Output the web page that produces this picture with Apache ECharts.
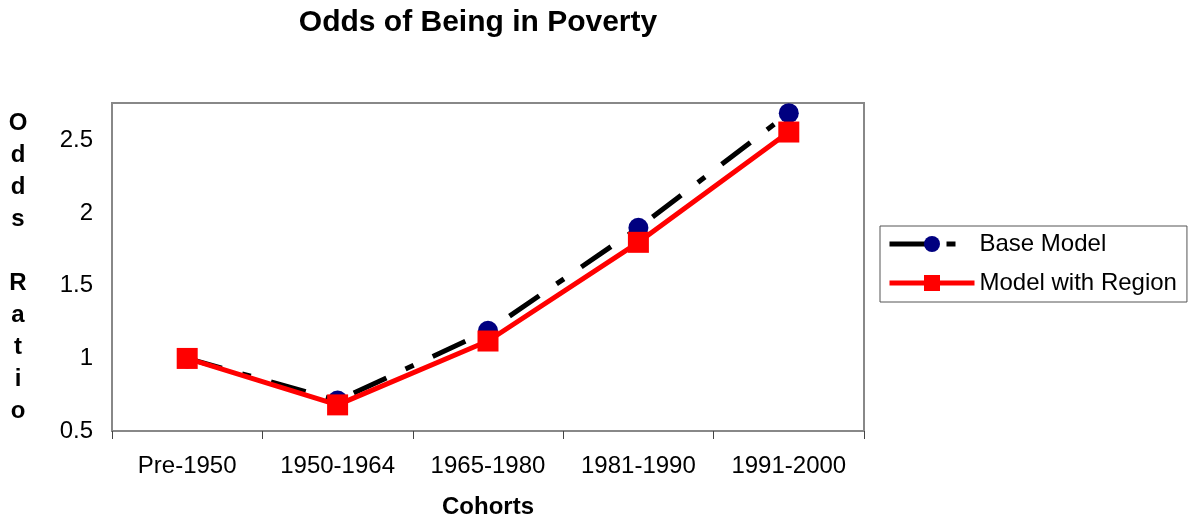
<!DOCTYPE html>
<html>
<head>
<meta charset="utf-8">
<script src="https://cdn.jsdelivr.net/npm/echarts@6/dist/echarts.min.js"></script>
<style>
  html, body { margin: 0; padding: 0; background: #fff; }
  #chart { width: 1200px; height: 527px; }
</style>
</head>
<body>
<div id="chart"></div>
<script>
// cohorts on the x axis
const cohorts = ['Pre-1950', '1950-1964', '1965-1980', '1981-1990', '1991-2000'];
// odds ratios
const baseModel = [1.0, 0.71, 1.19, 1.9, 2.69];
const modelWithRegion = [1.0, 0.68, 1.12, 1.8, 2.56];
const yAxisLetters = ['O', 'd', 'd', 's', '', 'R', 'a', 't', 'i', 'o'];

const font = '"Liberation Sans", Arial, sans-serif';
const myChart = echarts.init(document.getElementById('chart'));

const option = {
  animation: false,
  textStyle: { fontFamily: font },
  title: {
    text: 'Odds of Being in Poverty',
    left: 473,
    textAlign: 'center',
    top: 3,
    textStyle: { fontSize: 30, fontWeight: 'bold', color: '#000', fontFamily: font }
  },
  grid: {
    left: 112,
    right: 336,
    top: 103,
    bottom: 96,
    show: true,
    borderColor: '#888',
    borderWidth: 2,
    containLabel: false,
    outerBoundsMode: 'none'
  },
  legend: {
    orient: 'vertical',
    left: 880,
    top: 226,
    itemWidth: 85,
    itemHeight: 20,
    itemGap: 15,
    padding: [6, 10, 7, 7],
    borderColor: '#555',
    borderWidth: 1,
    textStyle: { fontSize: 24, lineHeight: 24, color: '#000', fontFamily: font },
    data: [
      { name: 'Base Model', lineStyle: { width: 5 } },
      { name: 'Model with Region', lineStyle: { width: 5 } }
    ]
  },
  xAxis: {
    type: 'category',
    data: cohorts,
    boundaryGap: true,
    name: 'Cohorts',
    nameLocation: 'middle',
    nameGap: 64,
    nameTextStyle: { fontSize: 24, fontWeight: 'bold', color: '#000', fontFamily: font },
    axisLine: { lineStyle: { color: '#888', width: 2 } },
    axisTick: { show: true, inside: false, length: 8, alignWithLabel: false, lineStyle: { color: '#444', width: 1 } },
    axisLabel: { fontSize: 24, color: '#000', margin: 23, fontFamily: font },
    splitLine: { show: false }
  },
  yAxis: {
    type: 'value',
    min: 0.5,
    max: 2.76,
    interval: 0.5,
    name: yAxisLetters.join('\n'),
    nameLocation: 'middle',
    nameRotate: 0,
    nameGap: 94,
    nameTextStyle: { fontSize: 24, fontWeight: 'bold', color: '#000', lineHeight: 32, fontFamily: font, align: 'center' },
    axisLine: { show: true, lineStyle: { color: '#888', width: 2 } },
    axisTick: { show: false },
    axisLabel: {
      fontSize: 24,
      color: '#000',
      margin: 19,
      fontFamily: font,
      showMaxLabel: false,
      formatter: v => (Math.abs(v * 2 - Math.round(v * 2)) < 1e-6 ? String(v) : '')
    },
    splitLine: { show: false }
  },
  series: [
    {
      name: 'Base Model',
      type: 'line',
      data: baseModel,
      symbol: 'circle',
      symbolSize: 20,
      itemStyle: { color: '#000080' },
      lineStyle: { color: '#000', width: 5, type: [36, 21, 9, 21] },
      z: 2
    },
    {
      name: 'Model with Region',
      type: 'line',
      data: modelWithRegion,
      symbol: 'rect',
      symbolSize: 21,
      itemStyle: { color: '#ff0000' },
      lineStyle: { color: '#ff0000', width: 5 },
      z: 3
    }
  ]
};

myChart.setOption(option);
</script>
</body>
</html>
